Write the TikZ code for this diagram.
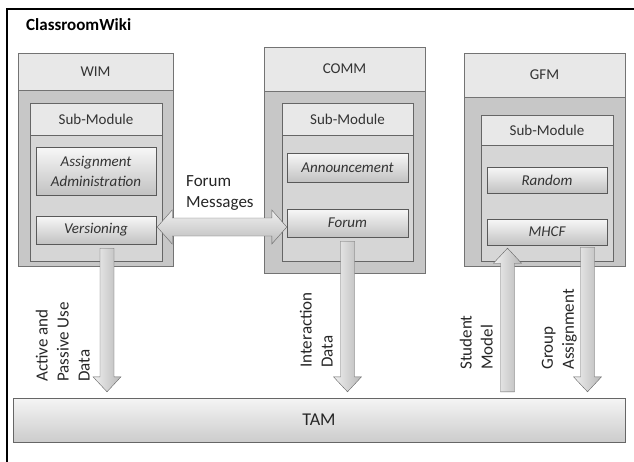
\documentclass[tikz,border=0pt]{standalone}
\usepackage{fontspec}
\setmainfont{Carlito}
\usetikzlibrary{calc,shadows}

\begin{document}
\begin{tikzpicture}[x=1pt, y=-1pt,
    modbody/.style={draw=black!55, fill=black!22, inner sep=0pt},
    modhead/.style={draw=black!55, fill=black!9, inner sep=0pt, font=\fontsize{15}{18}\selectfont, text=black!80},
    subbody/.style={draw=black!60, fill=black!16, inner sep=0pt},
    subhead/.style={draw=black!60, fill=black!9, inner sep=0pt, font=\fontsize{15}{18}\selectfont, text=black!80},
    item/.style={draw=black!65, top color=black!3, bottom color=black!24, minimum width=120pt, inner sep=0pt, align=center,
        font=\fontsize{15}{20}\selectfont\itshape, text=black!80, drop shadow={shadow xshift=1pt, shadow yshift=-1pt, opacity=0.35}},
    fatv/.style={draw=black!60, left color=black!6, right color=black!28,
        to path={let \p1=(\tikztostart), \p2=(\tikztotarget), \n1={ifthenelse(\y1>\y2, \y2+15, \y2-15)} in
        (\x1-7pt,\y1) -- (\x1-7pt,\n1) -- (\x1-14pt,\n1) -- (\x1,\y2) -- (\x1+14pt,\n1) -- (\x1+7pt,\n1) -- (\x1+7pt,\y1) -- cycle}},
    fatlr/.style={draw=black!60, top color=black!6, bottom color=black!26,
        to path={let \p1=(\tikztostart), \p2=(\tikztotarget) in
        (\x1,\y1) -- (\x1+15pt,\y1+17pt) -- (\x1+15pt,\y1+9pt) -- (\x2-15pt,\y1+9pt) -- (\x2-15pt,\y1+17pt) -- (\x2,\y1)
        -- (\x2-15pt,\y1-17pt) -- (\x2-15pt,\y1-9pt) -- (\x1+15pt,\y1-9pt) -- (\x1+15pt,\y1-17pt) -- cycle}},
    lbl/.style={font=\fontsize{17}{21}\selectfont, text=black!85, align=left, inner sep=0pt}
]
\useasboundingbox (0,0) rectangle (634,461);
\draw[line width=1.5pt] (7,475) -- (7,9) -- (640,9);
\node[font=\fontsize{17}{20}\selectfont\bfseries, anchor=west, inner sep=0pt] (title) at (26,25) {ClassroomWiki};

% WIM
\node[modbody, minimum width=155pt, minimum height=213pt] (W) at (95.5,159.5) {};
\node[modhead, minimum width=155pt, minimum height=37pt, anchor=north] (Wh) at (W.north) {WIM};
\node[subbody, minimum width=132pt, minimum height=158pt] (Ws) at (96,182) {};
\node[subhead, minimum width=132pt, minimum height=32pt, anchor=north] (Wsh) at (Ws.north) {Sub-Module};
\node[item, minimum height=48pt] (A) at (96,171) {Assignment\\Administration};
\node[item, minimum height=28pt] (V) at (96,230) {Versioning};

% COMM
\node[modbody, minimum width=161pt, minimum height=226pt] (C) at (344.5,160) {};
\node[modhead, minimum width=161pt, minimum height=44pt, anchor=north] (Ch) at (C.north) {COMM};
\node[subbody, minimum width=131pt, minimum height=158pt] (Cs) at (347.5,182) {};
\node[subhead, minimum width=131pt, minimum height=32pt, anchor=north] (Csh) at (Cs.north) {Sub-Module};
\node[item, minimum width=121pt, minimum height=29pt] (N) at (347.5,167.5) {Announcement};
\node[item, minimum width=121pt, minimum height=28pt] (F) at (347.5,223) {Forum};

% GFM
\node[modbody, minimum width=161pt, minimum height=213pt] (G) at (544.5,159.5) {};
\node[modhead, minimum width=161pt, minimum height=44pt, anchor=north] (Gh) at (G.north) {GFM};
\node[subbody, minimum width=132pt, minimum height=146pt] (Gs) at (547,188) {};
\node[subhead, minimum width=132pt, minimum height=30pt, anchor=north] (Gsh) at (Gs.north) {Sub-Module};
\node[item, minimum height=26pt] (R) at (547,180) {Random};
\node[item, minimum height=26pt] (H) at (547,232) {MHCF};

% TAM
\node[draw=black!60, top color=black!4, bottom color=black!20, minimum width=612pt, minimum height=44pt, inner sep=0pt,
    font=\fontsize{18}{20}\selectfont, text=black!85, drop shadow={shadow xshift=1pt, shadow yshift=-1pt, opacity=0.35}] (T) at (319,420) {TAM};

% arrows
\coordinate (m1) at ($(V.east)+(1,-3)$);
\coordinate (m2) at (m1 -| F.west);
\coordinate (a1) at ($(V.south)+(11,4)$);
\coordinate (a1e) at ($(a1 |- T.north)+(0,-6)$);
\coordinate (a2) at ($(F.south)+(0,4)$);
\coordinate (a2e) at ($(a2 |- T.north)+(0,-6)$);
\coordinate (a3) at ($(H.south)+(-39.5,3)$);
\coordinate (a3s) at ($(a3 |- T.north)+(0,-6)$);
\coordinate (a4) at ($(H.south)+(40.5,2)$);
\coordinate (a4e) at ($(a4 |- T.north)+(0,-6)$);

\path[fatlr] (m1) to (m2);
\path[fatv] (a1) to (a1e);
\path[fatv] (a2) to (a2e);
\path[fatv] (a3s) to (a3);
\path[fatv] (a4) to (a4e);

% labels
\node[lbl, anchor=north west] (fm) at (186,175) {Forum\\Messages};
\node[lbl, rotate=90, anchor=south west] (apd) at ($(a1e)+(-17,-10)$) {Active and\\Passive Use\\Data};
\node[lbl, rotate=90, anchor=south west] (id) at ($(a2e)+(-14.5,-24)$) {Interaction\\Data};
\node[lbl, rotate=90, anchor=south west] (sm) at ($(a3s)+(-14.5,-22)$) {Student\\Model};
\node[lbl, rotate=90, anchor=south west] (ga) at ($(a4e)+(-10.5,-22)$) {Group\\Assignment};
\end{tikzpicture}
\end{document}
